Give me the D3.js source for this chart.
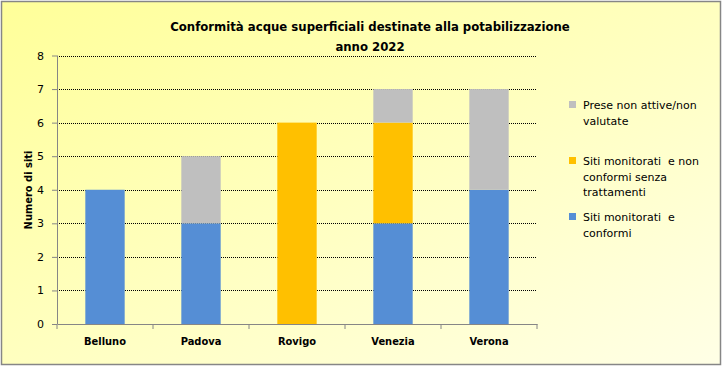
<!DOCTYPE html>
<html><head><meta charset="utf-8">
<script src="https://cdn.jsdelivr.net/npm/d3@7"></script>
<style>body{margin:0;background:#fff}svg{display:block}.leg{white-space:pre}</style>
</head><body>
<script>
const categories = ["Belluno","Padova","Rovigo","Venezia","Verona"];
const seriesNames = ["Siti monitorati  e conformi","Siti monitorati  e non conformi senza trattamenti","Prese non attive/non valutate"];
const conformi = [4,3,0,3,4];
const nonConformi = [0,0,6,3,0];
const nonAttive = [0,2,0,1,3];
const yTicks = [0,1,2,3,4,5,6,7,8];
const colors = ["#558ED5","#FFC000","#BFBFBF"];
const legendLines = [
  ["Prese non attive/non","valutate"],
  ["Siti monitorati  e non","conformi senza","trattamenti"],
  ["Siti monitorati  e","conformi"]
];

const W=723,H=368;
const svg=d3.select("body").append("svg").attr("width",W).attr("height",H);
const defs=svg.append("defs");
const g=defs.append("linearGradient").attr("id","bg").attr("x1","0").attr("y1","0").attr("x2","1").attr("y2","1");
g.append("stop").attr("offset","0").attr("stop-color","#FFFF99");
g.append("stop").attr("offset","1").attr("stop-color","#FFFFE6");
svg.append("rect").attr("x",1.5).attr("y",1.5).attr("width",W-4).attr("height",H-5)
  .attr("fill","url(#bg)").attr("stroke","#868686").attr("stroke-width",1.5);

const x=d3.scaleBand().domain(categories).range([57,537]).paddingInner(0.59).paddingOuter(0.295);
const y=d3.scaleLinear().domain([0,8]).range([324,55.5]);
const font="'DejaVu Sans', sans-serif";
const fontB="'DejaVu Sans Condensed', 'DejaVu Sans', sans-serif";

// grid
svg.append("g").selectAll("line").data(yTicks.filter(d=>d>0)).join("line")
  .attr("x1",57).attr("x2",537).attr("y1",d=>Math.round(y(d))+0.5).attr("y2",d=>Math.round(y(d))+0.5)
  .attr("stroke","#000").attr("stroke-width",1).attr("stroke-dasharray","1,1");

// stacked bars
const data=categories.map((c,i)=>({cat:c,v0:conformi[i],v1:nonConformi[i],v2:nonAttive[i]}));
const stack=d3.stack().keys(["v0","v1","v2"])(data);
svg.append("g").selectAll("g").data(stack).join("g").attr("fill",(d,i)=>colors[i])
  .selectAll("rect").data(d=>d).join("rect")
  .attr("x",d=>x(d.data.cat)).attr("width",x.bandwidth())
  .attr("y",d=>y(d[1])).attr("height",d=>y(d[0])-y(d[1]));

// axes
const ya=svg.append("g").attr("transform","translate(57,0)")
  .call(d3.axisLeft(y).tickValues(yTicks).tickSize(5).tickPadding(8).tickFormat(d3.format("d")));
const xa=svg.append("g").attr("transform","translate(0,324)")
  .call(d3.axisBottom(x).tickSize(0).tickPadding(13));
// category boundary ticks
svg.append("g").selectAll("line").data(d3.range(categories.length+1)).join("line")
  .attr("x1",i=>57+i*x.step()).attr("x2",i=>57+i*x.step()).attr("y1",324).attr("y2",329)
  .attr("stroke","#868686");
[ya,xa].forEach(a=>{a.selectAll("path,line").attr("stroke","#868686");
  a.selectAll("text").attr("font-family",font).attr("font-size",11).attr("fill","#000");});
xa.selectAll("text").attr("font-weight","bold").attr("font-family",fontB);
ya.select(".domain").attr("d","M0.5,324V55.5");

// title
svg.append("text").attr("x",370).attr("y",31).attr("text-anchor","middle")
  .attr("font-family",fontB).attr("font-weight","bold").attr("font-size",13)
  .text("Conformità acque superficiali destinate alla potabilizzazione");
svg.append("text").attr("x",370).attr("y",51).attr("text-anchor","middle")
  .attr("font-family",fontB).attr("font-weight","bold").attr("font-size",13).text("anno 2022");

// y label
svg.append("text").attr("transform","translate(32,190) rotate(-90)").attr("text-anchor","middle")
  .attr("font-family",fontB).attr("font-weight","bold").attr("font-size",11).text("Numero di siti");

// legend
const legY=[109,165,221];
const legColors=[colors[2],colors[1],colors[0]];
legendLines.forEach((lines,i)=>{
  svg.append("rect").attr("x",569).attr("y",legY[i]-8).attr("width",7).attr("height",7).attr("fill",legColors[i]);
  const t=svg.append("text").attr("class","leg").attr("font-family",font).attr("font-size",11).attr("fill","#000");
  lines.forEach((l,j)=>t.append("tspan").attr("x",583).attr("y",legY[i]+j*15.5).text(l));
});
</script>
</body></html>
